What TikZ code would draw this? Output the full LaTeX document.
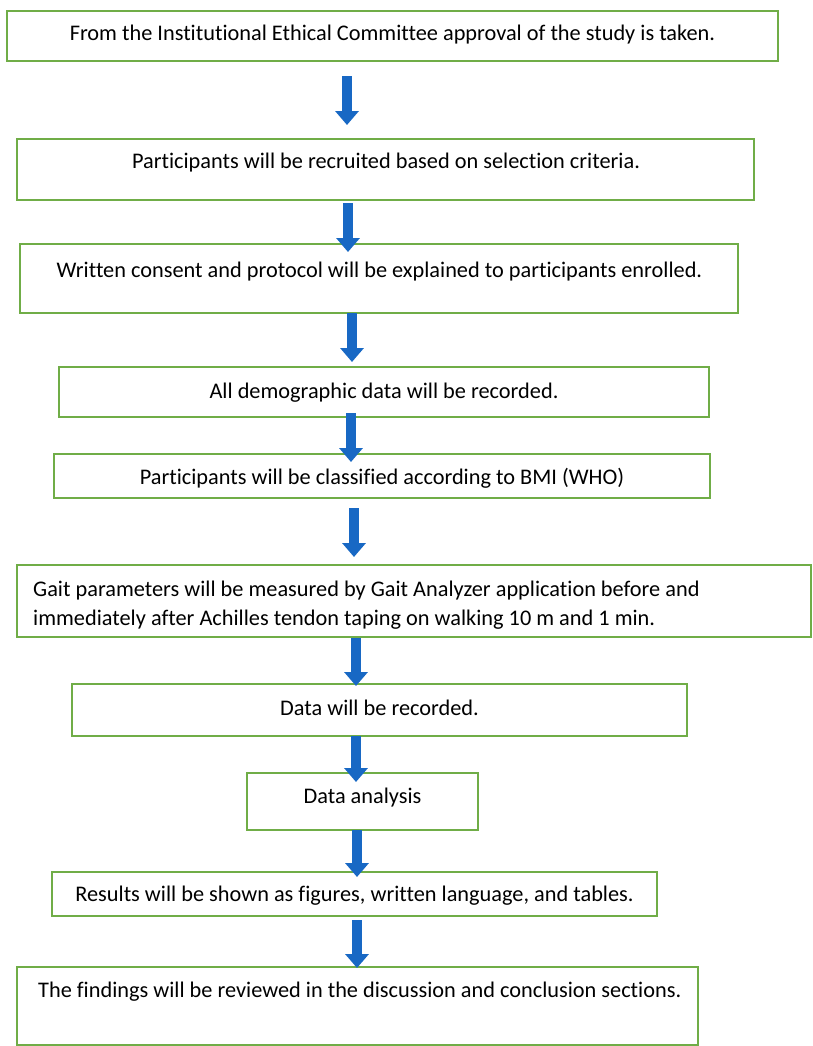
\documentclass[tikz,border=0pt]{standalone}
\usepackage{fontspec}
\setmainfont{Carlito}[Ligatures=CommonOff]
\usetikzlibrary{arrows.meta}
\definecolor{boxgreen}{RGB}{112,173,71}
\definecolor{arrblue}{RGB}{24,104,196}
\begin{document}
\begin{tikzpicture}[x=1bp,y=-1bp,
  box/.style={draw=boxgreen, line width=1.8bp, rectangle, inner sep=0pt},
  txt/.style={font=\fontsize{22.4}{30}\selectfont, inner sep=0pt, anchor=base, text=black},
  barrow/.style={draw=arrblue, line width=9.5bp, -{Triangle[width=23bp,length=14bp]}}]
\useasboundingbox (0,0) rectangle (813,1046);
\fill[white] (0,0) rectangle (813,1046);
% boxes
\node[box, minimum width=771bp, minimum height=50bp] (b1) at (392.5,36) {};
\node[box, minimum width=737bp, minimum height=61bp] (b2) at (385.5,169.5) {};
\node[box, minimum width=718bp, minimum height=69bp] (b3) at (379,278.5) {};
\node[box, minimum width=650bp, minimum height=50bp] (b4) at (384,392) {};
\node[box, minimum width=656bp, minimum height=44bp] (b5) at (382,476) {};
\node[box, minimum width=794bp, minimum height=72bp] (b6) at (414,601) {};
\node[box, minimum width=615bp, minimum height=52bp] (b7) at (379.5,710) {};
\node[box, minimum width=231bp, minimum height=57bp] (b8) at (362.5,801.5) {};
\node[box, minimum width=605bp, minimum height=44bp] (b9) at (354.5,894) {};
\node[box, minimum width=681bp, minimum height=78bp] (b10) at (357.5,1006) {};
% texts
\node[txt] (t1) at (392.5,40.5) {From the Institutional Ethical Committee approval of the study is taken.};
\node[txt] (t2) at (386,168) {Participants will be recruited based on selection criteria.};
\node[txt] (t3) at (379.5,277) {Written consent and protocol will be explained to participants enrolled.};
\node[txt] (t4) at (384,398) {All demographic data will be recorded.};
\node[txt] (t5) at (382,484) {Participants will be classified according to BMI (WHO)};
\node[txt, anchor=base west] (t6a) at (33,596) {Gait parameters will be measured by Gait Analyzer application before and};
\node[txt, anchor=base west] (t6b) at (33,625) {immediately after Achilles tendon taping on walking 10 m and 1 min.};
\node[txt] (t7) at (379.5,715) {Data will be recorded.};
\node[txt] (t8) at (362.5,803) {Data analysis};
\node[txt] (t9) at (354.5,901) {Results will be shown as figures, written language, and tables.};
\node[txt, anchor=base west] (t10) at (38,997) {The findings will be reviewed in the discussion and conclusion sections.};
% arrow endpoints
\coordinate (a1s) at (347,76);  \coordinate (a1e) at (347,125);
\coordinate (a2s) at (348,203); \coordinate (a2e) at (348,252);
\coordinate (a3s) at (352,313); \coordinate (a3e) at (352,362);
\coordinate (a4s) at (351,413); \coordinate (a4e) at (351,462);
\coordinate (a5s) at (354,508); \coordinate (a5e) at (354,557);
\coordinate (a6s) at (356,638); \coordinate (a6e) at (356,686);
\coordinate (a7s) at (356,736); \coordinate (a7e) at (356,782);
\coordinate (a8s) at (357,830); \coordinate (a8e) at (357,877);
\coordinate (a9s) at (357,920); \coordinate (a9e) at (357,968);
\foreach \i in {1,...,9} {\draw[barrow] (a\i s) -- (a\i e);}
\end{tikzpicture}
\end{document}
